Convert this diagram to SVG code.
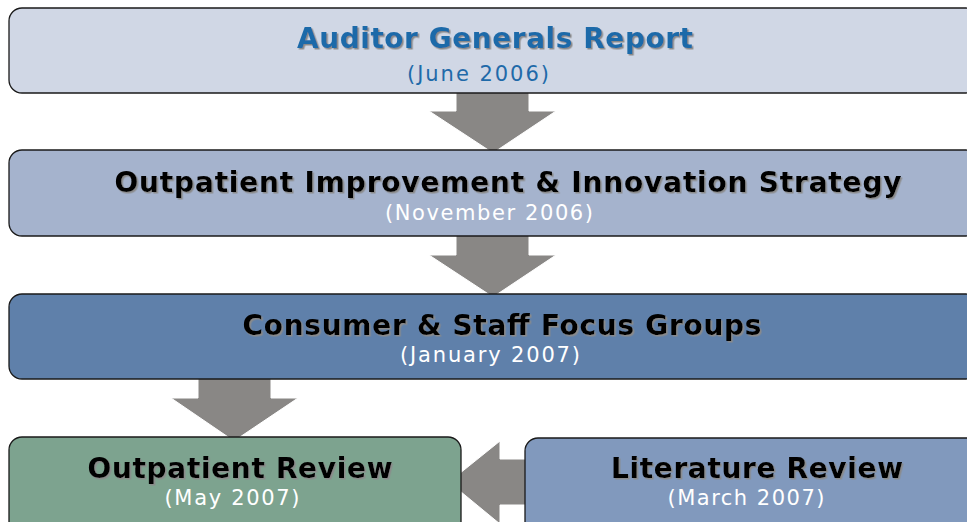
<svg xmlns="http://www.w3.org/2000/svg" width="967" height="522" viewBox="0 0 967 522">
<defs>
<filter id="shadow" x="-5%" y="-20%" width="110%" height="150%">
<feDropShadow dx="1.5" dy="1.5" stdDeviation="0.4" flood-color="#8a8a8a" flood-opacity="1"/>
</filter>
</defs>
<style>
.box{stroke:#1a1a1a;stroke-width:1.3}
.arrow{fill:#898785;stroke:#ffffff;stroke-width:1}
.t{font-family:"DejaVu Sans",Verdana,sans-serif;font-weight:bold;font-size:28px;text-anchor:middle;filter:url(#shadow)}
.s{font-family:"DejaVu Sans",Verdana,sans-serif;font-size:21px;text-anchor:middle;fill:#ffffff}
</style>
<rect width="967" height="522" fill="#ffffff"/>
<g id="connectors">
<polygon class="arrow" points="456,92 529,92 529,111 556,111 493,153 429,111 456,111"/>
<polygon class="arrow" points="456,235 529,235 529,255 556,255 493,297 429,255 456,255"/>
<polygon class="arrow" points="198,378 271,378 271,398 298,398 234,441 171,398 198,398"/>
<polygon class="arrow" points="527,459 500,459 500,441 449,482 500,524 500,505 527,505"/>
</g>
<g id="n1">
<rect class="box" x="9" y="8" width="970" height="85" rx="13" fill="#d0d7e5"/>
<text class="t" x="495" y="48" fill="#1f6aa9" textLength="396">Auditor Generals Report</text>
<text class="s" x="478" y="81" style="fill:#1f6aa9" textLength="142">(June 2006)</text>
</g>
<g id="n2">
<rect class="box" x="9" y="150" width="970" height="86" rx="13" fill="#a5b3cd"/>
<text class="t" x="508" y="192" fill="#000000" textLength="787">Outpatient Improvement &amp; Innovation Strategy</text>
<text class="s" x="489" y="220" textLength="208">(November 2006)</text>
</g>
<g id="n3">
<rect class="box" x="9" y="294" width="970" height="85" rx="13" fill="#5f80aa"/>
<text class="t" x="502" y="335" fill="#000000" textLength="519">Consumer &amp; Staff Focus Groups</text>
<text class="s" x="490" y="362" textLength="180">(January 2007)</text>
</g>
<g id="n4">
<rect class="box" x="9" y="437" width="452" height="100" rx="13" fill="#7da38f"/>
<text class="t" x="240" y="478" fill="#000000" textLength="305">Outpatient Review</text>
<text class="s" x="232" y="505" textLength="135">(May 2007)</text>
</g>
<g id="n5">
<rect class="box" x="525" y="438" width="460" height="100" rx="13" fill="#8199bd"/>
<text class="t" x="757" y="478" fill="#000000" textLength="292">Literature Review</text>
<text class="s" x="746" y="505" textLength="157">(March 2007)</text>
</g>
</svg>
